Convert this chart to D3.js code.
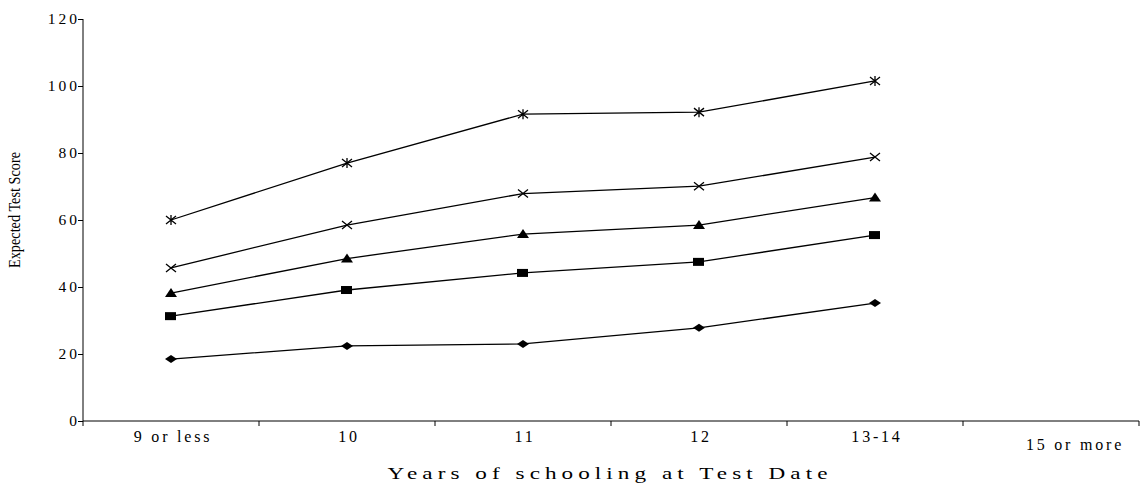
<!DOCTYPE html>
<html>
<head>
<meta charset="utf-8">
<script src="https://cdn.jsdelivr.net/npm/d3@7"></script>
<style>
  body { margin: 0; background: #fff; }
  svg text { font-family: "Liberation Serif", "Times New Roman", serif; fill: #000; }
</style>
</head>
<body>
<div id="chart"></div>
<script>
// categories and series
var categories = ["9 or less", "10", "11", "12", "13-14", "15 or more"];
var yTicks = [0, 20, 40, 60, 80, 100, 120];

var seriesStar     = [60.0, 77.0, 91.6, 92.2, 101.5];
var seriesCross    = [45.7, 58.5, 67.9, 70.1, 78.8];
var seriesTriangle = [38.2, 48.5, 55.8, 58.5, 66.7];
var seriesSquare   = [31.3, 39.1, 44.2, 47.5, 55.5];
var seriesDiamond  = [18.5, 22.4, 23.0, 27.8, 35.2];

var margin = {top: 19, right: 1, bottom: 62, left: 83},
    width = 1140 - margin.left - margin.right,
    height = 483 - margin.top - margin.bottom;

var svg = d3.select("#chart")
  .append("svg")
    .attr("width", 1140)
    .attr("height", 483)
  .append("g")
    .attr("transform", "translate(" + margin.left + "," + margin.top + ")");

var x = d3.scaleBand()
  .domain(categories)
  .range([0, width]);

var y = d3.scaleLinear()
  .domain([0, 120])
  .range([height, 0]);

// y axis
var yAxis = svg.append("g")
  .call(d3.axisLeft(y).tickValues(yTicks).tickSize(5).tickPadding(-2));
yAxis.select(".domain").attr("stroke", "#000").attr("d", "M0," + height + "V0");
yAxis.selectAll(".tick line").attr("stroke", "#000");
yAxis.selectAll("text")
  .style("font-size", "15.5px")
  .style("letter-spacing", "3px");

// x axis with ticks at band edges
var xAxis = svg.append("g")
  .attr("transform", "translate(0," + height + ")");
xAxis.append("line")
  .attr("x1", 0).attr("x2", width)
  .attr("stroke", "#000");
xAxis.selectAll(".edge")
  .data(categories.map(function(c) { return x(c); }).concat([width]))
  .enter().append("line")
    .attr("class", "edge")
    .attr("x1", function(d) { return d; })
    .attr("x2", function(d) { return d; })
    .attr("y1", 0).attr("y2", 5)
    .attr("stroke", "#000");

var last = categories.length - 1;
xAxis.selectAll(".lab")
  .data(categories)
  .enter().append("text")
    .attr("class", "lab")
    .attr("x", function(d, i) {
      var shift = i === last ? 24 : 2;
      return x(d) + x.bandwidth() / 2 + shift;
    })
    .attr("y", function(d, i) { return i === last ? 29 : 21; })
    .attr("text-anchor", "middle")
    .style("font-size", "16px")
    .style("letter-spacing", "2.8px")
    .text(function(d) { return d; });

// axis titles
svg.append("text")
  .attr("x", width / 2 - 1)
  .attr("y", height + 58)
  .attr("text-anchor", "middle")
  .attr("textLength", 445)
  .attr("lengthAdjust", "spacingAndGlyphs")
  .style("font-size", "16px")
  .style("letter-spacing", "3.5px")
  .text("Years of schooling at Test Date");

svg.append("text")
  .attr("transform", "rotate(-90)")
  .attr("x", -(height / 2 - 10))
  .attr("y", -margin.left + 20)
  .attr("text-anchor", "middle")
  .attr("textLength", 116)
  .attr("lengthAdjust", "spacingAndGlyphs")
  .style("font-size", "16px")
  .text("Expected Test Score");

// lines
var allSeries = [
  {values: seriesStar, marker: "star"},
  {values: seriesCross, marker: "cross"},
  {values: seriesTriangle, marker: "triangle"},
  {values: seriesSquare, marker: "square"},
  {values: seriesDiamond, marker: "diamond"}
];

var line = d3.line()
  .x(function(d, i) { return x(categories[i]) + x.bandwidth() / 2; })
  .y(function(d) { return y(d); });

allSeries.forEach(function(s) {
  svg.append("path")
    .datum(s.values)
    .attr("fill", "none")
    .attr("stroke", "#000")
    .attr("stroke-width", 1.3)
    .attr("d", line);

  var pts = svg.selectAll(null)
    .data(s.values)
    .enter().append("g")
      .attr("transform", function(d, i) {
        return "translate(" + (x(categories[i]) + x.bandwidth() / 2) + "," + y(d) + ")";
      });

  if (s.marker === "star") {
    pts.append("path")
      .attr("d", "M-5,-4L5,4M-5,4L5,-4M0,-5V5")
      .attr("stroke", "#000").attr("stroke-width", 1.3).attr("fill", "none");
  } else if (s.marker === "cross") {
    pts.append("path")
      .attr("d", "M-5,-4L5,4M-5,4L5,-4")
      .attr("stroke", "#000").attr("stroke-width", 1.3).attr("fill", "none");
  } else if (s.marker === "triangle") {
    pts.append("path").attr("d", "M0,-5L6,4H-6Z").attr("fill", "#000");
  } else if (s.marker === "square") {
    pts.append("rect").attr("x", -6).attr("y", -4).attr("width", 11).attr("height", 8).attr("fill", "#000");
  } else {
    pts.append("path").attr("d", "M0,-4L6,0L0,4L-6,0Z").attr("fill", "#000");
  }
});
</script>
</body>
</html>
